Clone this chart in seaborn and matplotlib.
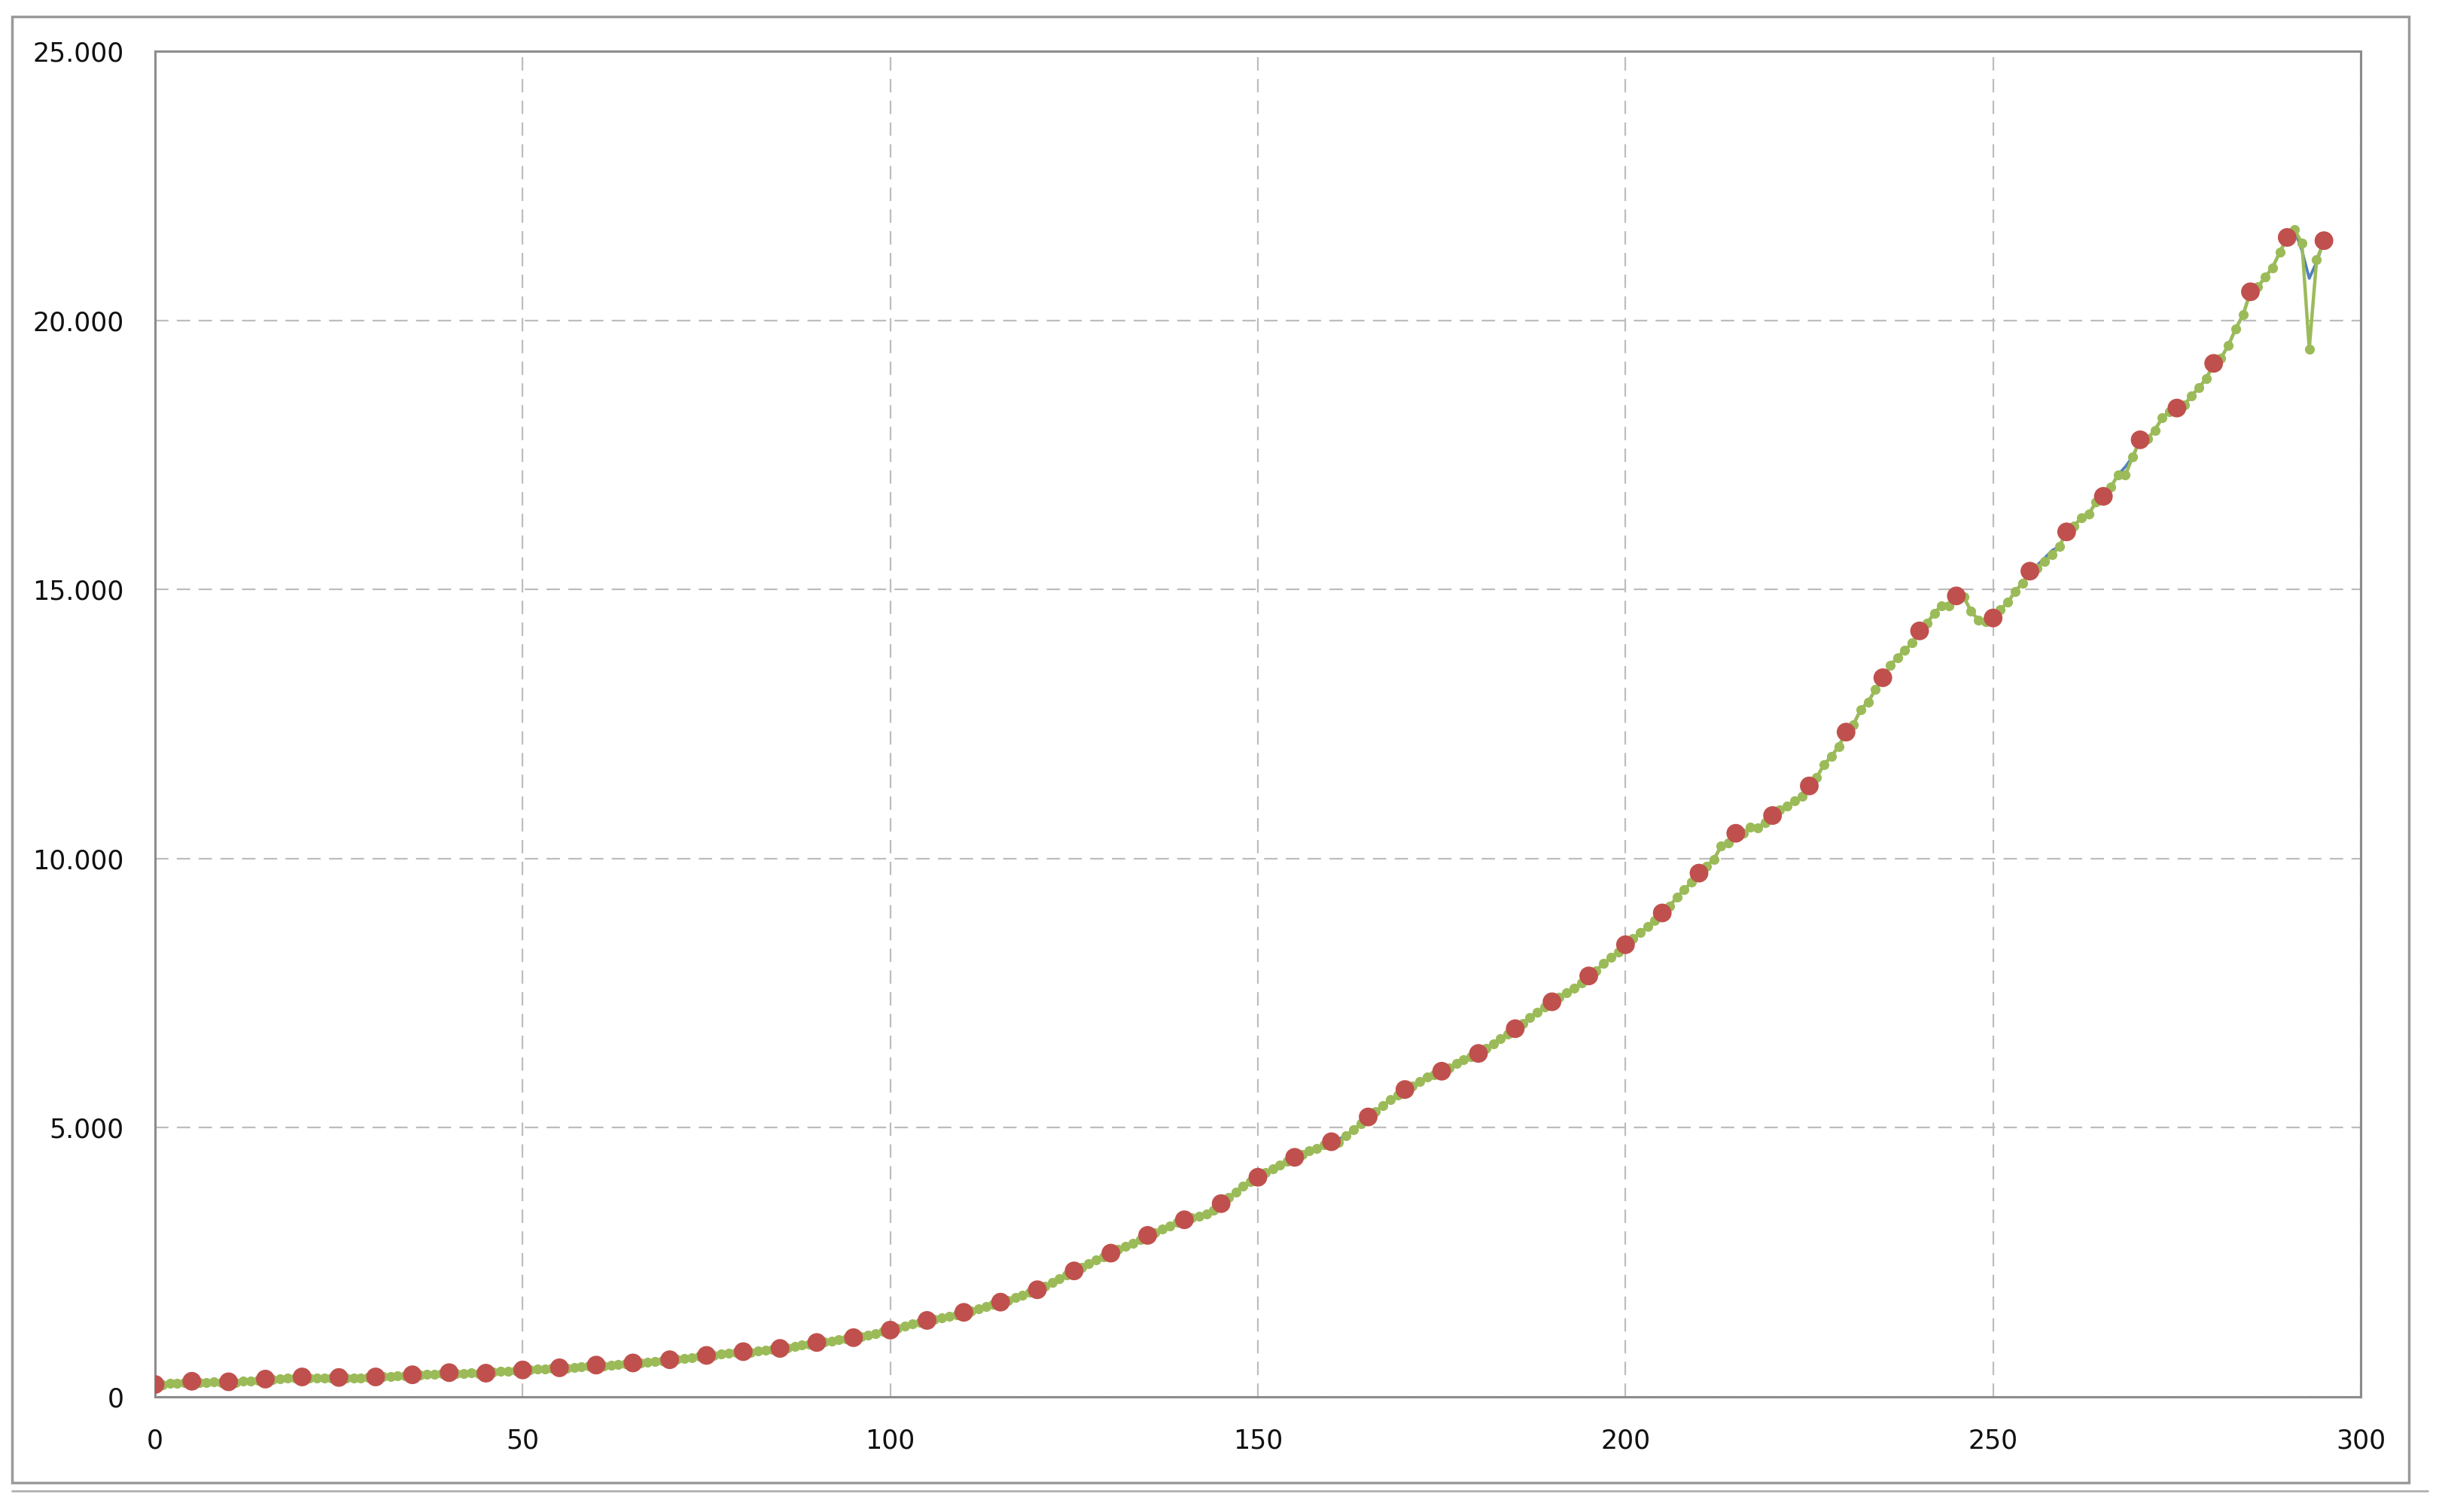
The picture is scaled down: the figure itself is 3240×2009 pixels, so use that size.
import numpy as np
import pandas as pd
import matplotlib
matplotlib.use("Agg")
import matplotlib.pyplot as plt
from matplotlib.ticker import FuncFormatter, MultipleLocator
from matplotlib.lines import Line2D
from matplotlib.patches import Rectangle
import seaborn as sns

# green series, one value per step 0..295
green_vals = [
    230, 225, 245, 250, 270, 290, 265, 260, 275, 270,
    280, 270, 290, 300, 310, 330, 320, 335, 345, 350,
    370, 350, 355, 345, 350, 360, 350, 345, 355, 360,
    370, 380, 375, 390, 395, 410, 400, 415, 425, 430,
    450, 440, 430, 445, 435, 440, 455, 470, 480, 490,
    500, 505, 515, 520, 530, 540, 535, 550, 560, 575,
    590, 580, 590, 600, 610, 630, 625, 640, 655, 670,
    690, 700, 715, 730, 750, 770, 765, 790, 805, 820,
    840, 830, 850, 865, 880, 900, 910, 935, 960, 985,
    1010, 1020, 1040, 1060, 1080, 1100, 1120, 1150, 1180, 1210,
    1240, 1270, 1310, 1350, 1380, 1420, 1440, 1470, 1500, 1530,
    1570, 1600, 1640, 1680, 1720, 1760, 1790, 1840, 1890, 1940,
    1990, 2050, 2120, 2200, 2270, 2340, 2400, 2470, 2540, 2600,
    2670, 2740, 2800, 2850, 2920, 3000, 3050, 3120, 3180, 3240,
    3290, 3330, 3360, 3400, 3470, 3590, 3700, 3810, 3920, 4000,
    4080, 4160, 4240, 4310, 4380, 4450, 4500, 4570, 4620, 4680,
    4740, 4720, 4850, 4960, 5080, 5200, 5300, 5410, 5520, 5610,
    5710, 5780, 5860, 5940, 5990, 6050, 6110, 6190, 6260, 6320,
    6380, 6470, 6560, 6650, 6740, 6840, 6940, 7050, 7150, 7240,
    7340, 7420, 7510, 7590, 7690, 7820, 7920, 8050, 8160, 8270,
    8400, 8510, 8620, 8740, 8850, 8990, 9120, 9280, 9420, 9570,
    9730, 9860, 9980, 10230, 10290, 10470, 10470, 10580, 10570, 10675,
    10800, 10900, 10980, 11070, 11160, 11350, 11510, 11745, 11900, 12085,
    12350, 12490, 12770, 12910, 13140, 13360, 13585, 13735, 13875, 14005,
    14230, 14370, 14560, 14700, 14690, 14880, 14860, 14600, 14430, 14395,
    14470, 14630, 14760, 14965, 15120, 15340, 15400, 15520, 15640, 15800,
    16070, 16180, 16330, 16400, 16620, 16730, 16900, 17130, 17130, 17470,
    17780, 17800, 17960, 18190, 18300, 18370, 18425, 18600, 18750, 18915,
    19200, 19300, 19535, 19845, 20100, 20530, 20620, 20800, 20980, 21265,
    21540, 21680, 21440, 19470, 21120, 21480,
]

# red series, every 5th step
red_x = list(range(0, 296, 5))
red_vals = [
    230, 290, 280, 330, 370, 360, 370, 410, 450, 440,
    500, 540, 590, 630, 690, 770, 840, 900, 1010, 1100,
    1240, 1420, 1570, 1760, 1990, 2340, 2670, 3000, 3290, 3590,
    4080, 4450, 4740, 5200, 5710, 6050, 6380, 6840, 7340, 7820,
    8400, 8990, 9730, 10470, 10800, 11350, 12350, 13360, 14230, 14880,
    14470, 15340, 16070, 16730, 17780, 18370, 19200, 20530, 21540, 21480,
]

# blue series follows green except at these steps
blue_diff_x = [161, 244, 256, 257, 258, 268, 292, 293, 294]
blue_diff_vals = [4790, 14750, 15450, 15580, 15720, 17280, 21300, 20780, 21080]

steps = np.arange(len(green_vals))
df = pd.DataFrame({"step": steps, "green": green_vals})
df["blue"] = df["green"]
df.loc[df["step"].isin(blue_diff_x), "blue"] = blue_diff_vals
red_df = pd.DataFrame({"step": red_x, "red": red_vals})

sns.set_style("white")
plt.rcParams["font.family"] = ["DejaVu Sans"]

W, H = 3241, 2009
fig = plt.figure(figsize=(W / 100, H / 100), dpi=100)
ax = fig.add_axes([206 / W, 1 - 1856 / H, (3136 - 206) / W, (1856 - 68) / H])

sns.lineplot(data=df, x="step", y="blue", ax=ax, color="#4F81BD", linewidth=2.8, zorder=2)
sns.lineplot(data=df, x="step", y="green", ax=ax, color="#9BBB59", linewidth=3.2,
             marker="o", markersize=9.5, markeredgewidth=0, zorder=3)
sns.scatterplot(data=red_df, x="step", y="red", ax=ax, color="#C0504D", s=320,
                edgecolor="none", zorder=4)

ax.set_xlim(0, 300)
ax.set_ylim(0, 25000)
ax.xaxis.set_major_locator(MultipleLocator(50))
ax.yaxis.set_major_locator(MultipleLocator(5000))
ax.yaxis.set_major_formatter(FuncFormatter(lambda v, p: f"{int(v):,}".replace(",", ".")))
ax.set_xlabel("")
ax.set_ylabel("")

ax.grid(True, color="#bdbdbd", linestyle=(0, (8, 5)), linewidth=1.6)
for sp in ax.spines.values():
    sp.set_color("#8c8c8c")
    sp.set_linewidth(2.2)
ax.tick_params(axis="both", direction="out", length=11, width=2, color="#8c8c8c",
               labelsize=25, labelcolor="#111111")
ax.tick_params(axis="x", pad=19)
ax.tick_params(axis="y", pad=19)

# outer chart frame
fig.add_artist(Rectangle((16 / W, 1 - 1970 / H), (3200 - 16) / W, (1970 - 22) / H,
                         transform=fig.transFigure, fill=False, edgecolor="#9a9a9a", linewidth=2.5))
fig.add_artist(Line2D([16 / W, 3225 / W], [1 - 1981 / H, 1 - 1981 / H],
                      transform=fig.transFigure, color="#b0b0b0", linewidth=2))

fig.savefig("out.png", dpi=100)
